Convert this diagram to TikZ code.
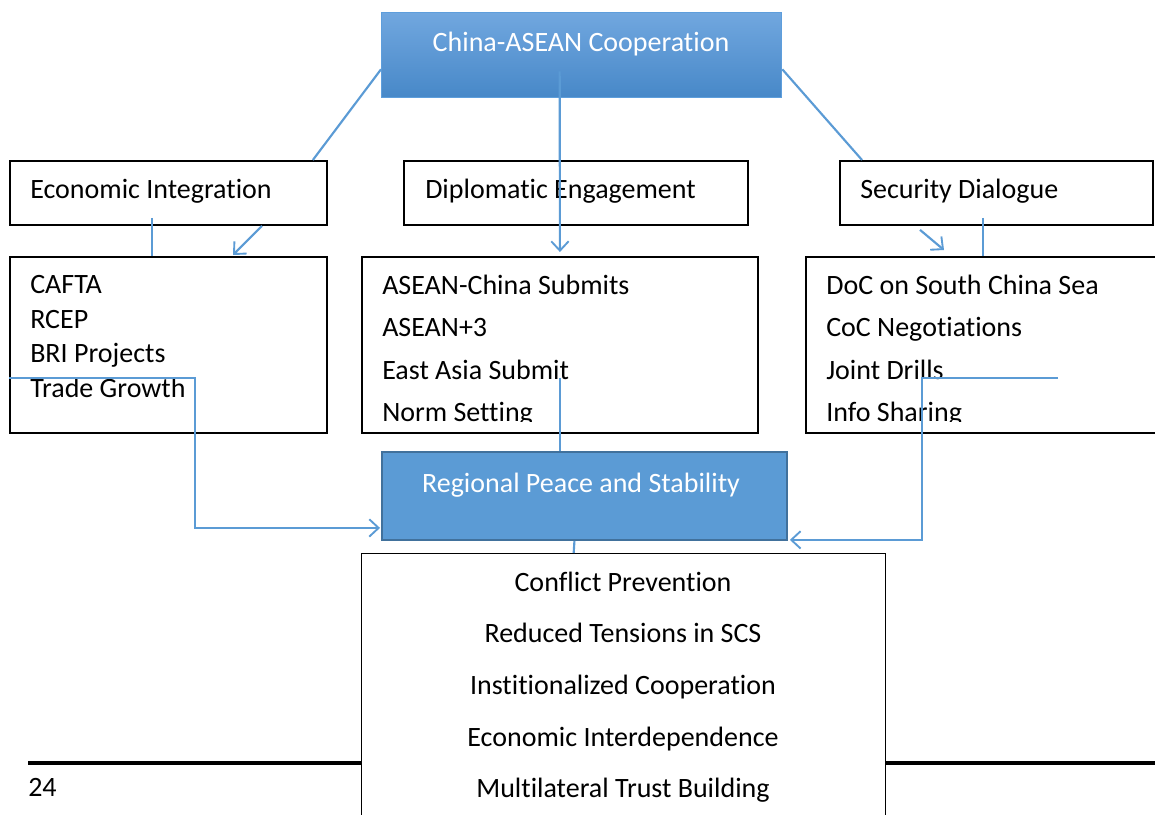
\documentclass[tikz,border=0pt]{standalone}
\usepackage{fontspec}
\setmainfont{Carlito}[RawFeature={-liga;-clig;-calt;-rlig}]
\usetikzlibrary{arrows.meta,calc}
\definecolor{lineblue}{HTML}{5B9BD5}
\definecolor{topA}{HTML}{71A7DF}
\definecolor{topB}{HTML}{4788C8}
\definecolor{topBorder}{HTML}{5E9EDC}
\definecolor{regFill}{HTML}{5B9BD5}
\definecolor{regBorder}{HTML}{41719C}
\begin{document}
\begin{tikzpicture}[x=0.75pt,y=-0.75pt,
  font=\fontsize{21}{25}\selectfont,
  plainbox/.style={draw=black, line width=1.4pt, fill=white, rectangle, inner sep=0pt, anchor=north west},
  txt/.style={anchor=base west, inner sep=0pt},
  ctxt/.style={anchor=base, inner sep=0pt},
  wtxt/.style={anchor=base, inner sep=0pt, text=white},
  conn/.style={draw=lineblue, line width=1.6pt},
  arr/.style={conn, -{Straight Barb[length=7pt,width=13pt,line width=1.4pt]}}]
\useasboundingbox (0,0) rectangle (1155,814);
\clip (0,0) rectangle (1155,814);
\fill[white] (0,0) rectangle (1155,814);

% thick rule behind bottom box
\draw[line width=2.6pt] (28,763) -- (1155,763);

% top box
\node[anchor=north west, rectangle, inner sep=0pt, draw=topBorder, line width=1pt,
  top color=topA, bottom color=topB, minimum width=400*0.75pt, minimum height=85*0.75pt] (top) at (381,12) {};
\node[wtxt] (toptxt) at (581,51) {China-ASEAN Cooperation};

% second row boxes
\node[plainbox, minimum width=317*0.75pt, minimum height=64*0.75pt] (econ) at (9,160) {};
\node[txt] (econtxt) at (30,198) {Economic Integration};
\node[plainbox, minimum width=344*0.75pt, minimum height=64*0.75pt] (dipl) at (403,160) {};
\node[txt] (dipltxt) at (425,198) {Diplomatic Engagement};
\node[plainbox, minimum width=313*0.75pt, minimum height=64*0.75pt] (sec) at (839,160) {};
\node[txt] (sectxt) at (860,198) {Security Dialogue};

% list boxes
\node[plainbox, minimum width=317*0.75pt, minimum height=176*0.75pt] (elist) at (9,256) {};
\node[txt] (e1) at (30,293) {CAFTA};
\node[txt] (e2) at (30,328) {RCEP};
\node[txt] (e3) at (30,362) {BRI Projects};
\node[txt] (e4) at (30,397) {Trade Growth};

\node[plainbox, minimum width=396*0.75pt, minimum height=176*0.75pt] (dlist) at (361,256) {};
\node[plainbox, minimum width=400*0.75pt, minimum height=176*0.75pt] (slist) at (805,256) {};
\begin{scope}
\clip (361,256) rectangle (1155,421);
\node[txt] (d1) at (382,294) {ASEAN-China Submits};
\node[txt] (d2) at (382,336) {ASEAN+3};
\node[txt] (d3) at (382,379) {East Asia Submit};
\node[txt] (d4) at (382,421) {Norm Setting};
\node[txt] (s1) at (826,294) {DoC on South China Sea};
\node[txt] (s2) at (826,336) {CoC Negotiations};
\node[txt] (s3) at (826,379) {Joint Drills};
\node[txt] (s4) at (826,421) {Info Sharing};
\end{scope}

% regional box
\node[anchor=north west, rectangle, inner sep=0pt, draw=regBorder, line width=1.4pt,
  fill=regFill, minimum width=405*0.75pt, minimum height=88*0.75pt] (reg) at (381,451) {};
\node[wtxt] (regtxt) at (581,492) {Regional Peace and Stability};

% bottom box
\node[plainbox, line width=1pt, minimum width=524*0.75pt, minimum height=300*0.75pt] (bottom) at (361,553) {};
\node[ctxt] (b1) at (623,591) {Conflict Prevention};
\node[ctxt] (b2) at (623,642) {Reduced Tensions in SCS};
\node[ctxt] (b3) at (623,694) {Institionalized Cooperation};
\node[ctxt] (b4) at (623,746) {Economic Interdependence};
\node[ctxt] (b5) at (623,797) {Multilateral Trust Building};

\node[txt] (page) at (28,796) {24};

% connectors
\draw[conn] ($(top.south west)+(0,-29)$) -- ($(econ.north east)+(-15,0)$);
\draw[arr] ($(top.south)+(-22,-27)$) -- ($(dlist.north)+(0,-4)$);
\draw[conn] ($(top.south east)+(0,-29)$) -- ($(sec.north west)+(23,0)$);

\draw[conn] ($(econ.south west)+(143,-8)$) -- ($(elist.north west)+(143,0)$);
\draw[arr] ($(econ.south west)+(253,0)$) -- ($(elist.north west)+(224,-1)$);
\draw[arr] ($(sec.south west)+(81,4)$) -- ($(slist.north west)+(139,-6)$);
\draw[conn] ($(sec.south west)+(144,-8)$) -- ($(slist.north west)+(178,0)$);

\coordinate (eStart) at ($(elist.north west)+(0,122)$);
\coordinate (eBend) at ($(elist.north west)+(186,122)$);
\draw[arr] (eStart) -- (eBend) |- ($(reg.west)+(-1,32)$);

\coordinate (dStart) at ($(dlist.north)+(0,122)$);
\draw[conn] (dStart) -- (dStart |- reg.north);

\coordinate (sStart) at ($(slist.north west)+(253,122)$);
\coordinate (sBend) at ($(slist.north west)+(117,122)$);
\draw[arr] (sStart) -- (sBend) |- ($(reg.south east)+(2,-1)$);

\draw[conn] ($(reg.south)+(-10,0)$) -- ($(bottom.north)+(-50,0)$);
\end{tikzpicture}
\end{document}
